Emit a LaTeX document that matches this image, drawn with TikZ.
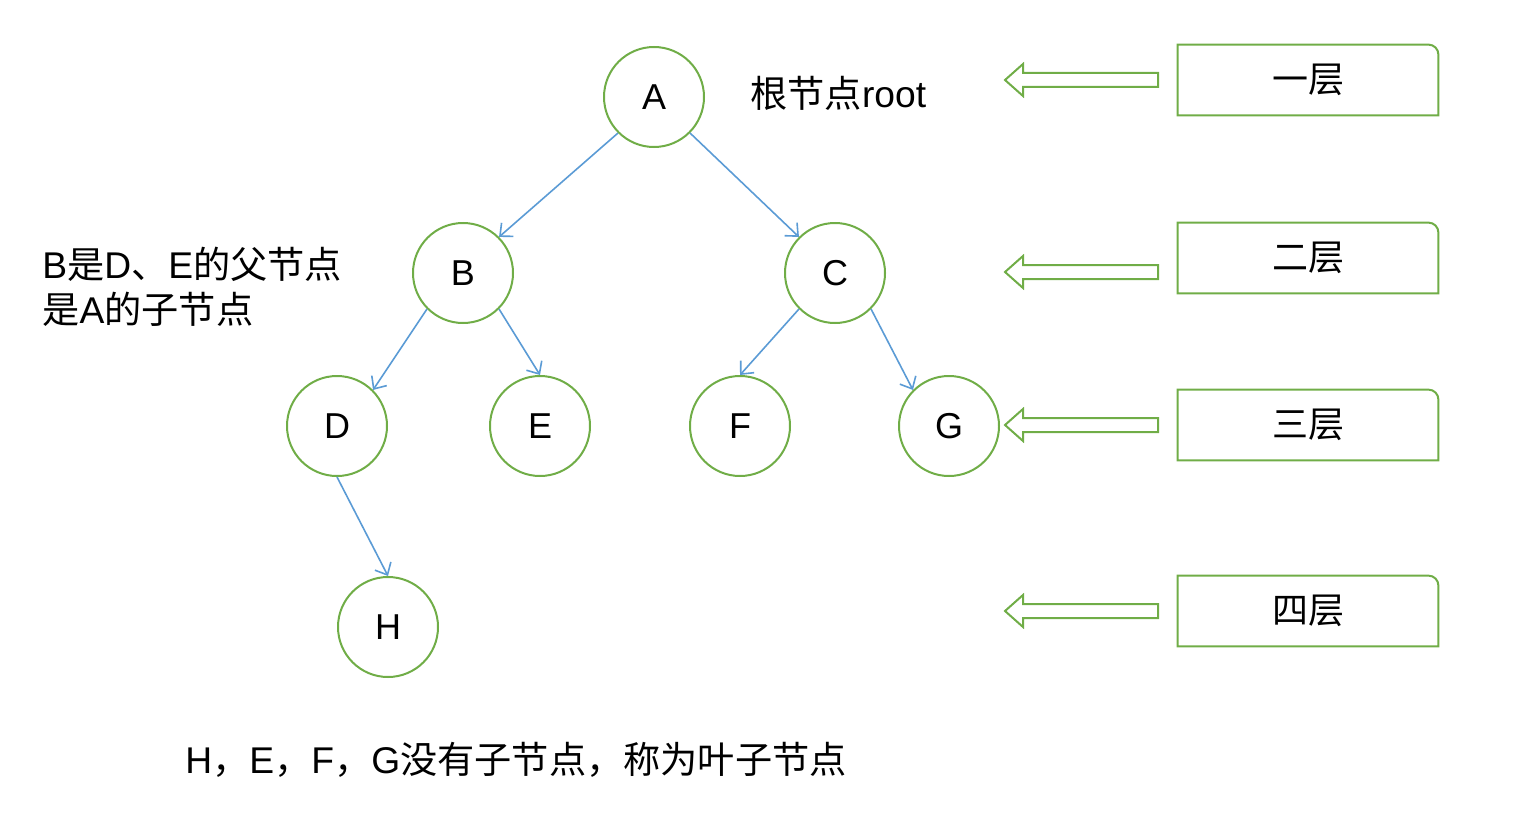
\documentclass[tikz,border=0pt]{standalone}
\usepackage{fontspec}
\setmainfont{Liberation Sans}
\newfontfamily\cjk{Noto Sans CJK SC}
\usepackage{xcolor}
\usepackage{tikz}
\usetikzlibrary{positioning, arrows.meta}

\definecolor{leafgreen}{RGB}{112,173,71}
\definecolor{edgeblue}{RGB}{91,155,213}

\begin{document}
\begin{tikzpicture}[
    x=0.5pt, y=-0.5pt,
    treenode/.style={circle, draw=leafgreen, line width=1pt, minimum size=50pt, inner sep=0pt, font=\fontsize{18}{22}\selectfont},
    treeedge/.style={-{Straight Barb[length=5pt, width=9pt]}, draw=edgeblue, line width=0.8pt},
    levelbox/.style={minimum width=130pt, minimum height=35pt, inner sep=0pt, font=\cjk\fontsize{18}{22}\selectfont},
    levelline/.style={draw=leafgreen, line width=1pt},
    notetext/.style={inner sep=0pt, font=\fontsize{18.6}{22.5}\selectfont}
]
  \useasboundingbox (0,0) rectangle (1520,840);

  % Nodes
  \node[treenode] (A) at (654,97) {A};
  \node[treenode] (B) at (463,273) {B};
  \node[treenode] (C) at (835,273) {C};
  \node[treenode] (D) at (337,426) {D};
  \node[treenode] (E) at (540,426) {E};
  \node[treenode] (F) at (740,426) {F};
  \node[treenode] (G) at (949,426) {G};
  \node[treenode] (H) at (388,627) {H};

  % Arrows
  \draw[treeedge] (A.225) -- (B.45);
  \draw[treeedge] (A.-45) -- (C.135);
  \draw[treeedge] (B.225) -- (D.45);
  \draw[treeedge] (B.-45) -- (E.north);
  \draw[treeedge] (C.225) -- (F.north);
  \draw[treeedge] (C.-45) -- (G.135);
  \draw[treeedge] (D.south) -- (H.north);

  % Labels
  \node[notetext, anchor=west] (rootnote) at (750,93) {{\cjk 根节点}root};
  \node[notetext, anchor=west, align=left] (parentnote) at (42,287)
    {B{\cjk 是}D{\cjk 、}E{\cjk 的父节点}\\{\cjk 是}A{\cjk 的子节点}};
  \node[notetext, anchor=west] (leafnote) at (185,760)
    {H{\cjk ，}E{\cjk ，}F{\cjk ，}G{\cjk 没有子节点，称为叶子节点}};

  % Levels
  \foreach \name/\ly/\txt in {lvlone/80/一层, lvltwo/258/二层, lvlthree/425/三层, lvlfour/611/四层} {
    \node[levelbox] (\name) at (1308,\ly) {\txt};
    \draw[levelline] (\name.south west) -- (\name.north west)
      -- ([xshift=-5pt]\name.north east) arc[start angle=90, end angle=0, radius=5pt]
      -- (\name.south east) -- cycle;
  }
  \foreach \ay in {80,272,425,611}
    \draw[levelline] (1005,\ay) -- (1023,\ay-16) -- (1023,\ay-7) -- (1158,\ay-7)
      -- (1158,\ay+7) -- (1023,\ay+7) -- (1023,\ay+16) -- cycle;

\end{tikzpicture}
\end{document}
